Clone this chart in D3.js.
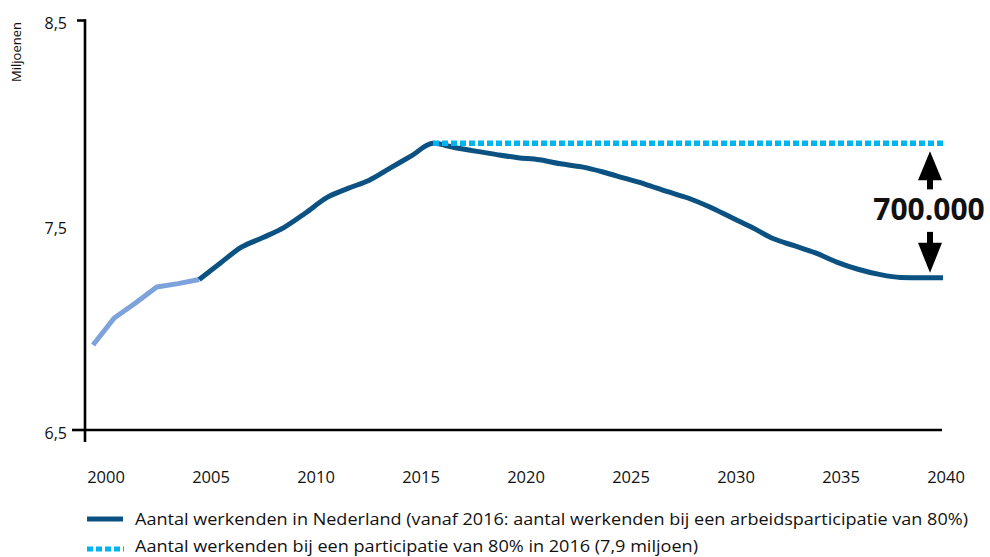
<!DOCTYPE html>
<html>
<head>
<meta charset="utf-8">
<script src="https://cdn.jsdelivr.net/npm/d3@7"></script>
<style>
  body { margin: 0; background: #fff; }
  svg { display: block; font-family: "Open Sans", "Noto Sans", sans-serif; }
</style>
</head>
<body>
<svg id="chart" width="990" height="557"></svg>
<script>
// ---- data ----
const yearsHist = [2000, 2001, 2002, 2003, 2004, 2005];
const valuesHist = [6.915, 7.047, 7.12, 7.198, 7.215, 7.235];

const yearsMain = [2005, 2006, 2007, 2008, 2009, 2010, 2011, 2012, 2013, 2014, 2015, 2016,
  2017, 2018, 2019, 2020, 2021, 2022, 2023, 2024, 2025, 2026, 2027, 2028,
  2029, 2030, 2031, 2032, 2033, 2034, 2035, 2036, 2037, 2038, 2039, 2040];
const valuesMain = [7.235, 7.316, 7.394, 7.44, 7.49, 7.56, 7.635, 7.68, 7.72, 7.78, 7.84, 7.90,
  7.88, 7.862, 7.845, 7.83, 7.82, 7.80, 7.785, 7.76, 7.73, 7.70, 7.665, 7.633,
  7.59, 7.54, 7.49, 7.435, 7.40, 7.365, 7.32, 7.285, 7.26, 7.245, 7.243, 7.243];

const yearsTarget = [2016, 2040];
const valuesTarget = [7.90, 7.90];

const xTickLabels = [2000, 2005, 2010, 2015, 2020, 2025, 2030, 2035, 2040];
const yTickLabels = [6.5, 7.5, 8.5];
const gapLabel = "700.000";
const yAxisTitle = "Miljoenen";
const legendLabels = [
  "Aantal werkenden in Nederland (vanaf 2016: aantal werkenden bij een arbeidsparticipatie van 80%)",
  "Aantal werkenden bij een participatie van 80% in 2016 (7,9 miljoen)"
];

// ---- colors ----
const colDark = "#0b5282";
const colLight = "#7ea2db";
const colCyan = "#00b4ef";

const svg = d3.select("#chart");

const x = d3.scaleLinear().domain([2000, 2040]).range([93, 943]);
const xLab = d3.scaleLinear().domain([2000, 2040]).range([106, 946]);
const y = d3.scaleLinear().domain([6.5, 8.5]).range([430, 20.5]);

const fmt = v => d3.format(".1f")(v).replace(".", ",");

// Axes
const axisG = svg.append("g");
axisG.append("line").attr("x1", 85).attr("x2", 85).attr("y1", y(8.5) - 1).attr("y2", 442)
  .attr("stroke", "#000").attr("stroke-width", 2.6);
axisG.append("line").attr("x1", 85).attr("x2", 942).attr("y1", y(6.5)).attr("y2", y(6.5))
  .attr("stroke", "#000").attr("stroke-width", 2.6);
// y ticks (only at the ends)
axisG.append("line").attr("x1", 77).attr("x2", 86).attr("y1", y(8.5)).attr("y2", y(8.5))
  .attr("stroke", "#000").attr("stroke-width", 2.6);
axisG.append("line").attr("x1", 72).attr("x2", 86).attr("y1", y(6.5)).attr("y2", y(6.5))
  .attr("stroke", "#000").attr("stroke-width", 2.6);

axisG.selectAll("text.ylab").data(yTickLabels).enter().append("text")
  .attr("class", "ylab")
  .attr("x", 67).attr("y", d => y(d) + 8.5)
  .attr("text-anchor", "end").attr("font-size", 16).attr("fill", "#111")
  .text(fmt);

axisG.selectAll("text.xlab").data(xTickLabels).enter().append("text")
  .attr("class", "xlab")
  .attr("x", d => xLab(d)).attr("y", 483)
  .attr("text-anchor", "middle").attr("font-size", 16.5).attr("fill", "#111")
  .text(d => d);

svg.append("text")
  .attr("transform", "translate(21,52) rotate(-90)")
  .attr("text-anchor", "middle").attr("font-size", 13).attr("fill", "#111")
  .text(yAxisTitle);

// Lines
const line = d3.line().x(d => x(d[0])).y(d => y(d[1])).curve(d3.curveMonotoneX);
const lineLin = d3.line().x(d => x(d[0])).y(d => y(d[1]));

svg.append("path").datum(yearsHist.map((yr, i) => [yr, valuesHist[i]]))
  .attr("d", lineLin).attr("fill", "none").attr("stroke", colLight)
  .attr("stroke-width", 5).attr("stroke-linejoin", "round");

svg.append("path").datum(yearsMain.map((yr, i) => [yr, valuesMain[i]]))
  .attr("d", line).attr("fill", "none").attr("stroke", colDark)
  .attr("stroke-width", 5).attr("stroke-linejoin", "round");

svg.append("path").datum(yearsTarget.map((yr, i) => [yr, valuesTarget[i]]))
  .attr("d", lineLin)
  .attr("fill", "none").attr("stroke", colCyan)
  .attr("stroke-width", 5.5).attr("stroke-dasharray", "6,3");

// Gap annotation
const ax = x(2040) - 13;
const yTop = y(valuesTarget[1]);
const yBot = y(valuesMain[valuesMain.length - 1]);
const ann = svg.append("g");
// up arrow
ann.append("rect").attr("x", ax - 3).attr("y", yTop + 30).attr("width", 6).attr("height", 16).attr("fill", "#000");
ann.append("path").attr("d", `M${ax},${yTop + 8} L${ax + 12},${yTop + 37} L${ax - 12},${yTop + 37} Z`).attr("fill", "#000");
// down arrow
ann.append("rect").attr("x", ax - 3).attr("y", yBot - 46).attr("width", 6).attr("height", 16).attr("fill", "#000");
ann.append("path").attr("d", `M${ax},${yBot - 5} L${ax + 12},${yBot - 35} L${ax - 12},${yBot - 35} Z`).attr("fill", "#000");
ann.append("text").attr("x", ax - 1).attr("y", (yTop + yBot) / 2 + 9)
  .attr("text-anchor", "middle").attr("font-size", 30).attr("font-weight", "bold")
  .attr("fill", "#111").text(gapLabel);

// Legend
const legendWidths = [833, 563];
const leg = svg.append("g");
leg.append("line").attr("x1", 87).attr("x2", 123).attr("y1", 519).attr("y2", 519)
  .attr("stroke", colDark).attr("stroke-width", 5);
leg.append("line").attr("x1", 87).attr("x2", 124).attr("y1", 549).attr("y2", 549)
  .attr("stroke", colCyan).attr("stroke-width", 5).attr("stroke-dasharray", "6,3");
leg.selectAll("text").data(legendLabels).enter().append("text")
  .attr("x", 135).attr("y", (d, i) => 525 + i * 27)
  .attr("font-size", 17).attr("fill", "#111")
  .attr("textLength", (d, i) => legendWidths[i])
  .attr("lengthAdjust", "spacingAndGlyphs")
  .text(d => d);
</script>
</body>
</html>
